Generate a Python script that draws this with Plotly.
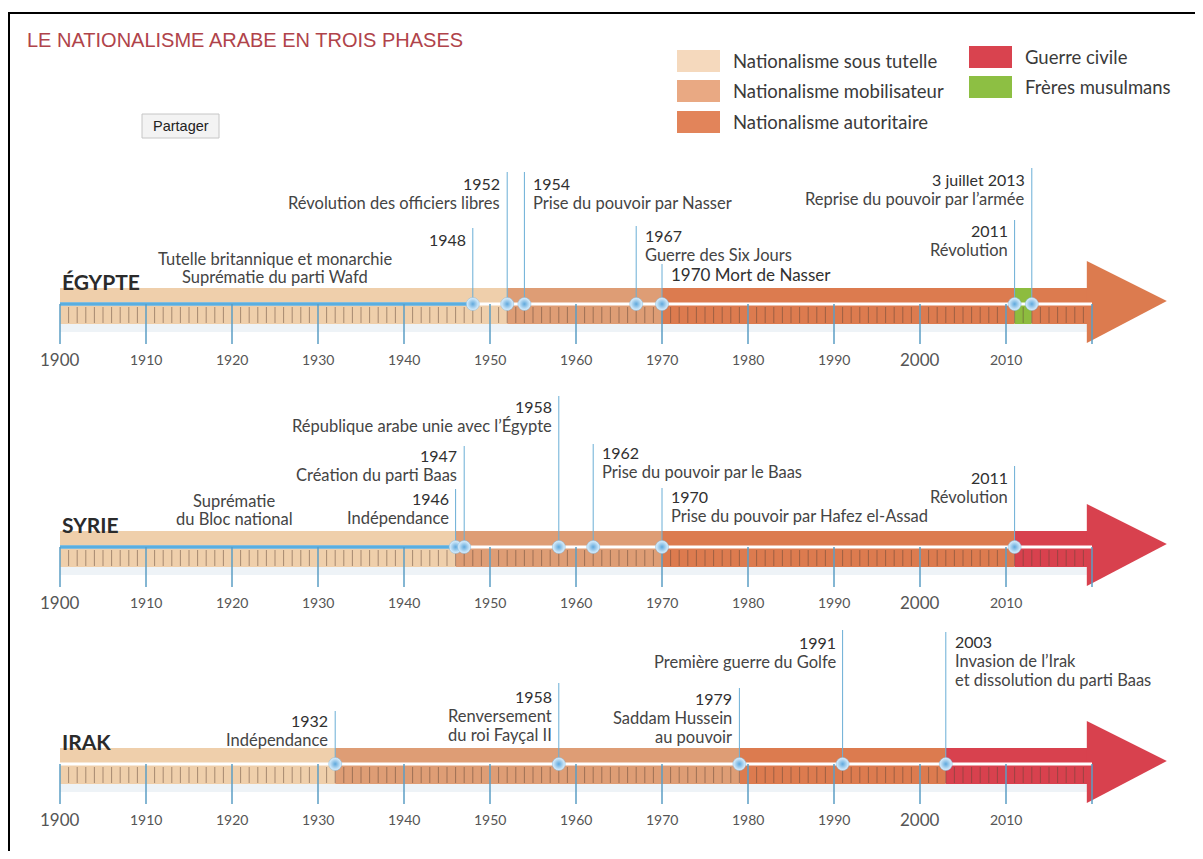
import plotly.graph_objects as go

# ---------------- DATA ----------------
title_text = "LE NATIONALISME ARABE EN TROIS PHASES"
phase_names = ["Nationalisme sous tutelle", "Nationalisme mobilisateur",
               "Nationalisme autoritaire", "Guerre civile", "Frères musulmans"]

decade_ticks = [1900, 1910, 1920, 1930, 1940, 1950, 1960, 1970, 1980, 1990, 2000, 2010]
timeline_end = 2020

country_names = ["ÉGYPTE", "SYRIE", "IRAK"]

egypt_phase_start = [1900, 1952, 1970, 2011, 2013]
egypt_phase_end = [1952, 1970, 2011, 2013, 2020]
egypt_phase_kind = [0, 1, 2, 4, 2]

syria_phase_start = [1900, 1946, 1970, 2011]
syria_phase_end = [1946, 1970, 2011, 2020]
syria_phase_kind = [0, 1, 2, 3]

iraq_phase_start = [1900, 1932, 1979, 2003]
iraq_phase_end = [1932, 1979, 2003, 2020]
iraq_phase_kind = [0, 1, 2, 3]

egypt_event_years = [1948, 1952, 1954, 1967, 1970, 2011, 2013]
egypt_event_titles = ["1948", "1952", "1954", "1967", "1970 Mort de Nasser", "2011", "3 juillet 2013"]
egypt_event_texts = [[], ["Révolution des officiers libres"], ["Prise du pouvoir par Nasser"],
                     ["Guerre des Six Jours"], [], ["Révolution"],
                     ["Reprise du pouvoir par l’armée"]]

syria_event_years = [1946, 1947, 1958, 1962, 1970, 2011]
syria_event_titles = ["1946", "1947", "1958", "1962", "1970", "2011"]
syria_event_texts = [["Indépendance"], ["Création du parti Baas"],
                     ["République arabe unie avec l’Égypte"], ["Prise du pouvoir par le Baas"],
                     ["Prise du pouvoir par Hafez el-Assad"], ["Révolution"]]

iraq_event_years = [1932, 1958, 1979, 1991, 2003]
iraq_event_titles = ["1932", "1958", "1979", "1991", "2003"]
iraq_event_texts = [["Indépendance"], ["Renversement", "du roi Fayçal II"],
                    ["Saddam Hussein", "au pouvoir"], ["Première guerre du Golfe"],
                    ["Invasion de l’Irak", "et dissolution du parti Baas"]]

egypt_period_text = ["Tutelle britannique et monarchie", "Suprématie du parti Wafd"]
syria_period_text = ["Suprématie", "du Bloc national"]
iraq_period_text = []

egypt_blue_end = 1948
syria_blue_end = 1946
iraq_blue_end = None

# ---------------- STYLE / LAYOUT ----------------
FONT = "Lato, 'Open Sans', sans-serif"
ARIAL = "'Liberation Sans', Arial, sans-serif"
PX_PER_YEAR = 8.6
X0_PX = 60            # screen x of year 1900
FIG_LEFT, FIG_TOP = 8, 8
FIG_W, FIG_H = 1187, 843

PHASE_COLORS = ['#efcfab', '#de9d75', '#dc7b4f', '#d8414e', '#8dbc3f']
LEGEND_COLORS = ['#f5d9bd', '#e9a983', '#e2845a', '#d9434f', '#8dbf43']
TICK_BLUE = '#5b9ec4'
EVENT_LINE = '#6aaed6'
DESC_SIZE = 16.5


def X(px):
    return 1900 + (px - X0_PX) / PX_PER_YEAR


rows = [
    dict(name=country_names[0], mid=304,
         starts=egypt_phase_start, ends=egypt_phase_end, kinds=egypt_phase_kind,
         ev_years=egypt_event_years, ev_titles=egypt_event_titles, ev_texts=egypt_event_texts,
         ev_side=['L', 'L', 'R', 'R', 'R', 'L', 'L'],
         ev_top=[228, 172, 172, 226, 264, 220, 168],
         ev_title_y=[239, 183, 183, 235, 274, 230, 179],
         period=egypt_period_text, period_x=275, period_y=259, blue_end=egypt_blue_end),
    dict(name=country_names[1], mid=547,
         starts=syria_phase_start, ends=syria_phase_end, kinds=syria_phase_kind,
         ev_years=syria_event_years, ev_titles=syria_event_titles, ev_texts=syria_event_texts,
         ev_side=['L', 'L', 'L', 'R', 'R', 'L'],
         ev_top=[489, 446, 396, 444, 488, 466],
         ev_title_y=[498, 455, 406, 452, 496, 477],
         period=syria_period_text, period_x=234, period_y=501, blue_end=syria_blue_end),
    dict(name=country_names[2], mid=764,
         starts=iraq_phase_start, ends=iraq_phase_end, kinds=iraq_phase_kind,
         ev_years=iraq_event_years, ev_titles=iraq_event_titles, ev_texts=iraq_event_texts,
         ev_side=['L', 'L', 'L', 'L', 'R'],
         ev_top=[711, 683, 688, 630, 632],
         ev_title_y=[720, 696, 698, 642, 641],
         period=iraq_period_text, period_x=0, period_y=0, blue_end=iraq_blue_end),
]

fig = go.Figure()
annotations = []
shapes = []


def txt(x, y, text, size, color, anchor='center', xshift=0, family=FONT):
    annotations.append(dict(x=x, y=y, xref='x', yref='y', text=text, showarrow=False,
                            xanchor=anchor, yanchor='middle', xshift=xshift,
                            font=dict(family=family, size=size, color=color)))


for r in rows:
    mid = r['mid']
    # soft shadow under bar
    fig.add_trace(go.Bar(orientation='h', base=[r['starts'][0]],
                         x=[timeline_end - r['starts'][0]], y=[mid + 24], width=8,
                         marker=dict(color='rgba(205,220,232,0.35)', line=dict(width=0)),
                         hoverinfo='skip', showlegend=False))
    # arrow head
    head_color = PHASE_COLORS[r['kinds'][-1]]
    fig.add_trace(go.Scatter(x=[timeline_end - 0.6, timeline_end + 8.7, timeline_end - 0.6, timeline_end - 0.6],
                             y=[mid - 43, mid - 3, mid + 39, mid - 43],
                             mode='lines', fill='toself', fillcolor=head_color,
                             line=dict(width=0, color=head_color), hoverinfo='skip', showlegend=False))
    # phase bars
    fig.add_trace(go.Bar(orientation='h', base=r['starts'],
                         x=[e - s for s, e in zip(r['starts'], r['ends'])],
                         y=[mid + 2] * len(r['starts']), width=36,
                         marker=dict(color=[PHASE_COLORS[k] for k in r['kinds']], line=dict(width=0)),
                         hoverinfo='skip', showlegend=False))
    # white middle line
    fig.add_trace(go.Scatter(x=[r['starts'][0], timeline_end], y=[mid, mid], mode='lines',
                             line=dict(color='white', width=3), hoverinfo='skip', showlegend=False))
    # blue line
    if r['blue_end'] is not None:
        fig.add_trace(go.Scatter(x=[r['starts'][0], r['blue_end']], y=[mid, mid], mode='lines',
                                 line=dict(color='#5aaee0', width=3.5), hoverinfo='skip', showlegend=False))
    # minor ticks
    mx, my = [], []
    for yr in range(decade_ticks[0] + 1, timeline_end):
        if yr % 10:
            mx += [yr, yr, None]
            my += [mid + 3, mid + 19, None]
    fig.add_trace(go.Scatter(x=mx, y=my, mode='lines', line=dict(color='rgba(95,70,55,0.5)', width=1),
                             hoverinfo='skip', showlegend=False))
    # major ticks
    tx, ty = [], []
    for yr in decade_ticks + [timeline_end]:
        tx += [yr, yr, None]
        ty += [mid, mid + 40, None]
    fig.add_trace(go.Scatter(x=tx, y=ty, mode='lines', line=dict(color=TICK_BLUE, width=1.5),
                             hoverinfo='skip', showlegend=False))
    # decade labels
    for yr in decade_ticks:
        big = yr in (1900, 2000)
        txt(yr, mid + 55, str(yr), 17 if big else 14, '#555555')
    # event lines
    ex, ey = [], []
    for yr, top in zip(r['ev_years'], r['ev_top']):
        ex += [yr, yr, None]
        ey += [mid, top, None]
    fig.add_trace(go.Scatter(x=ex, y=ey, mode='lines', line=dict(color=EVENT_LINE, width=1),
                             hoverinfo='skip', showlegend=False))
    # event dots
    fig.add_trace(go.Scatter(x=r['ev_years'], y=[mid] * len(r['ev_years']), mode='markers',
                             marker=dict(size=13, color='#e2f2fd',
                                         gradient=dict(type='radial', color='#5fa8dc'),
                                         line=dict(width=0.5, color='#7fb8e0')),
                             hoverinfo='skip', showlegend=False))
    # event labels
    for yr, title, lines, side, ty0 in zip(r['ev_years'], r['ev_titles'], r['ev_texts'],
                                          r['ev_side'], r['ev_title_y']):
        anchor = 'right' if side == 'L' else 'left'
        shift = -5 if side == 'L' else 7
        tsize = 17 if len(title) > 14 else 16
        txt(yr, ty0, title, tsize, '#303030', anchor, shift)
        for i, line in enumerate(lines):
            txt(yr, ty0 + 20 + 19 * i, line, DESC_SIZE, '#444444', anchor, shift)
    # country label
    txt(X(60), mid - 23, '<b>' + r['name'] + '</b>', 21, '#2b2b2b', 'left')
    # period text
    for i, line in enumerate(r['period']):
        txt(X(r['period_x']), r['period_y'] + 18 * i, line, DESC_SIZE, '#444444')

# title
txt(X(25), 40, title_text, 20, '#b0434a', 'left', family=ARIAL)

# share button
shapes.append(dict(type='rect', xref='x', yref='y', x0=X(142), x1=X(219), y0=114, y1=138,
                   fillcolor='#f3f3f3', line=dict(color='#c6c6c6', width=1), layer='above'))
txt(X(180.5), 126, 'Partager', 14.5, '#222222', family=ARIAL)

# legend
leg_pos = [(677, 50), (677, 80), (677, 111), (969, 46), (969, 76)]
for (lx, ly), name, col in zip(leg_pos, phase_names, LEGEND_COLORS):
    shapes.append(dict(type='rect', xref='x', yref='y', x0=X(lx), x1=X(lx + 43), y0=ly, y1=ly + 22,
                       fillcolor=col, line=dict(width=0), layer='above'))
    txt(X(lx + 54), ly + 11, name, 18.5, '#3a3a3a', 'left')

# border
shapes.append(dict(type='line', xref='x', yref='y', x0=X(8), x1=X(1203), y0=13, y1=13,
                   line=dict(color='black', width=2), layer='above'))
shapes.append(dict(type='line', xref='x', yref='y', x0=X(9), x1=X(9), y0=13, y1=860,
                   line=dict(color='black', width=2), layer='above'))

fig.update_layout(
    width=FIG_W, height=FIG_H,
    margin=dict(l=0, r=0, t=0, b=0, pad=0),
    paper_bgcolor='white', plot_bgcolor='white',
    barmode='overlay', showlegend=False,
    xaxis=dict(range=[X(FIG_LEFT), X(FIG_LEFT + FIG_W)], visible=False, fixedrange=True),
    yaxis=dict(range=[FIG_TOP + FIG_H, FIG_TOP], visible=False, fixedrange=True),
    annotations=annotations, shapes=shapes,
)

fig.write_html("out.html", config={'displayModeBar': False})
